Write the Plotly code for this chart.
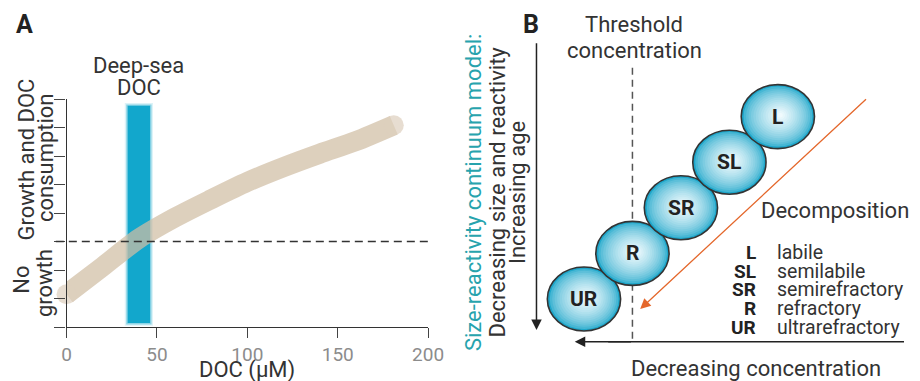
import plotly.graph_objects as go

W, H = 920, 381

# ---------------- Panel A data ----------------
doc_um = [0, 20, 40, 60, 80, 100, 120, 140, 160, 181]
growth = [1.15, 2.12, 3.1, 3.84, 4.48, 5.09, 5.61, 6.08, 6.52, 7.08]
deep_sea_doc = [33.8, 46.2]          # µM band
deep_sea_extent = [0.14, 7.76]       # vertical extent of band (axis units)
threshold_level = 3                  # no-growth threshold
x_ticks = [0, 50, 100, 150, 200]
x_tick_text = ["0", "50", "100", "150", "200"]
y_ticks = [0, 1, 2, 3, 4, 5, 6, 7, 8]

# ---------------- Panel B data ----------------
classes = ["L", "SL", "SR", "R", "UR"]
class_names = ["labile", "semilabile", "semirefractory", "refractory", "ultrarefractory"]
class_rank = [4, 3, 2, 1, 0]         # position along the continuum
threshold_rank = 1

FONT = "Roboto, 'Open Sans', Arial, sans-serif"
TXT = "#333333"


def px(x):
    return x / W


def py(y):
    return 1 - y / H


fig = go.Figure()

# curve (semi-transparent beige band with round caps)
n = len(doc_um)
fig.add_trace(go.Scatter(
    x=doc_um, y=growth, mode="lines+markers",
    line=dict(color="rgb(209,190,165)", width=20, shape="spline", smoothing=0.8),
    marker=dict(size=[20] + [0] * (n - 2) + [20], color="rgb(209,190,165)", line=dict(width=0)),
    opacity=0.72, cliponaxis=False, hoverinfo="skip", showlegend=False,
    xaxis="x", yaxis="y"))

shapes = []
# deep-sea DOC band with soft edges
for grow, op in [(1.6, 0.15), (0.8, 0.4), (0.0, 1.0)]:
    shapes.append(dict(type="rect", xref="x", yref="y",
                       x0=deep_sea_doc[0] - grow, x1=deep_sea_doc[1] + grow,
                       y0=deep_sea_extent[0] - grow * 0.06, y1=deep_sea_extent[1] + grow * 0.06,
                       fillcolor="#12a7cc", opacity=op, line=dict(width=0), layer="below"))
# threshold dashed line
shapes.append(dict(type="line", xref="paper", yref="y", x0=px(52), x1=px(436),
                   y0=threshold_level, y1=threshold_level,
                   line=dict(color="#333", width=1.4, dash="8px,5px")))

# ---------------- Panel B schematic axes ----------------
U0, US = 592.5, 49.6     # pixel origin / pixels per rank (x)
V0, VS = 299.0, 45.6     # pixel origin / pixels per rank (y)
u_range = [(460 - U0) / US, (W - U0) / US]
v_range = [(V0 - H) / VS, V0 / VS]
RX, RY = 0.756, 0.702    # ellipse half-axes in rank units

# threshold line in panel B (behind the ellipses)
shapes.append(dict(type="line", xref="x2", yref="y2", x0=threshold_rank, x1=threshold_rank,
                   y0=5.07, y1=-0.94, line=dict(color="#555", width=1.5, dash="7px,5px")))

outer = (30, 166, 202)
inner = (240, 250, 253)
N = 16
for rank in class_rank[::-1]:
    cu, cv = rank, rank
    for k in range(N):
        t = k / (N - 1)
        s = 1 - 0.93 * t
        f = t ** 0.6
        col = tuple(int(round(outer[i] + (inner[i] - outer[i]) * f)) for i in range(3))
        du, dv = 0.05 * t, 0.03 * t
        shapes.append(dict(type="circle", xref="x2", yref="y2",
                           x0=cu + du - RX * s, x1=cu + du + RX * s,
                           y0=cv + dv - RY * s, y1=cv + dv + RY * s,
                           fillcolor="rgb(%d,%d,%d)" % col, line=dict(width=0)))
    shapes.append(dict(type="circle", xref="x2", yref="y2",
                       x0=cu - RX, x1=cu + RX, y0=cv - RY, y1=cv + RY,
                       fillcolor="rgba(0,0,0,0)", line=dict(color="#333", width=1.6)))

# concentration axis line reaching the right edge
shapes.append(dict(type="line", xref="x2", yref="y2", x0=u_range[1], x1=0.5,
                   y0=-0.94, y1=-0.94, line=dict(color="#222", width=1.5)))

ann = []


def label(x, y, text, size=22, color=TXT, **kw):
    d = dict(x=px(x), y=py(y), xref="paper", yref="paper", text=text, showarrow=False,
             font=dict(family=FONT, size=size, color=color), xanchor="center", yanchor="middle")
    d.update(kw)
    ann.append(d)


# Panel labels
label(20, 24, "<b>A</b>", font=dict(family="'Liberation Sans Narrow', Roboto", size=25, color="#222"))
label(538, 24, "<b>B</b>", font=dict(family="'Liberation Sans Narrow', Roboto", size=25, color="#222"))

# Panel A text
label(137, 65, "Deep-sea")
label(137, 87, "DOC")
label(21, 160, "Growth and DOC", textangle=-90)
label(41, 158, "consumption", textangle=-90)
label(16, 280, "No", textangle=-90)
label(40, 283, "growth", textangle=-90)
label(248, 370, "DOC (\u03bcM)")

# Panel B text
label(644, 25, "Threshold")
label(644, 50, "concentration")
label(480, 193, "Size-reactivity continuum model:", color="#27a3ad", textangle=-90)
label(503, 192, "Decreasing size and reactivity", textangle=-90)
label(525, 193, "Increasing age", textangle=-90)
label(772, 210, "Decomposition", xanchor="left")
label(769, 368, "Decreasing concentration")

row_y = [252.5, 271.3, 289.7, 308.5, 327.5]
for ab, nm, yy in zip(classes, class_names, row_y):
    label(771, yy, "<b>%s</b>" % ab, size=19, color="#222", xanchor="right")
    label(788, yy, nm, size=19.5, xanchor="left")

# letters in ellipses
for ab, rank in zip(classes, class_rank):
    ann.append(dict(x=rank, y=rank, xref="x2", yref="y2", text="<b>%s</b>" % ab, showarrow=False,
                    font=dict(family=FONT, size=21, color="#222")))


# arrows
def arrow(x0, y0, x1, y1, color, width=1.5, size=1.4):
    ann.append(dict(x=x1, y=y1, ax=x0, ay=y0, xref="x2", yref="y2", axref="x2", ayref="y2",
                    text="", showarrow=True, arrowhead=2, arrowsize=size, arrowwidth=width,
                    arrowcolor=color, standoff=0, startstandoff=0))


arrow(-0.98, 5.64, -0.98, -0.68, "#222")          # increasing age
arrow(1.0, -0.94, -0.19, -0.94, "#222")            # decreasing concentration (head)
arrow(5.85, 4.41, 1.16, -0.22, "#e4672b", width=1.3, size=1.6)  # decomposition

fig.update_layout(
    width=W, height=H, autosize=False, margin=dict(l=0, r=0, t=0, b=0, pad=0),
    paper_bgcolor="white", plot_bgcolor="rgba(0,0,0,0)",
    showlegend=False, shapes=shapes, annotations=ann,
    font=dict(family=FONT, color=TXT),
    xaxis=dict(domain=[63 / W, 433 / W], range=[0, 200], anchor="y",
               showline=True, linecolor="#333", linewidth=1.3, ticks="outside", ticklen=10,
               tickwidth=1.3, tickcolor="#444", tickvals=x_ticks, ticktext=x_tick_text,
               tickfont=dict(family=FONT, size=19, color="#8c8c8c"),
               showgrid=False, zeroline=False, fixedrange=True),
    yaxis=dict(domain=[(H - 327) / H, (H - 99) / H], range=[0, 8], anchor="x",
               showline=True, linecolor="#333", linewidth=1.3, ticks="outside", ticklen=11,
               tickwidth=1.3, tickcolor="#444", tickvals=y_ticks, showticklabels=False,
               showgrid=False, zeroline=False, fixedrange=True),
    xaxis2=dict(domain=[460 / W, 1], range=u_range, anchor="y2", visible=False, fixedrange=True),
    yaxis2=dict(domain=[0, 1], range=v_range, anchor="x2", visible=False, fixedrange=True),
)

fig.write_html(
    "out.html", config={"displayModeBar": False, "responsive": False},
    post_script=("document.documentElement.style.overflow='hidden';"
                 "document.body.style.margin='0';document.body.style.overflow='hidden';"))
